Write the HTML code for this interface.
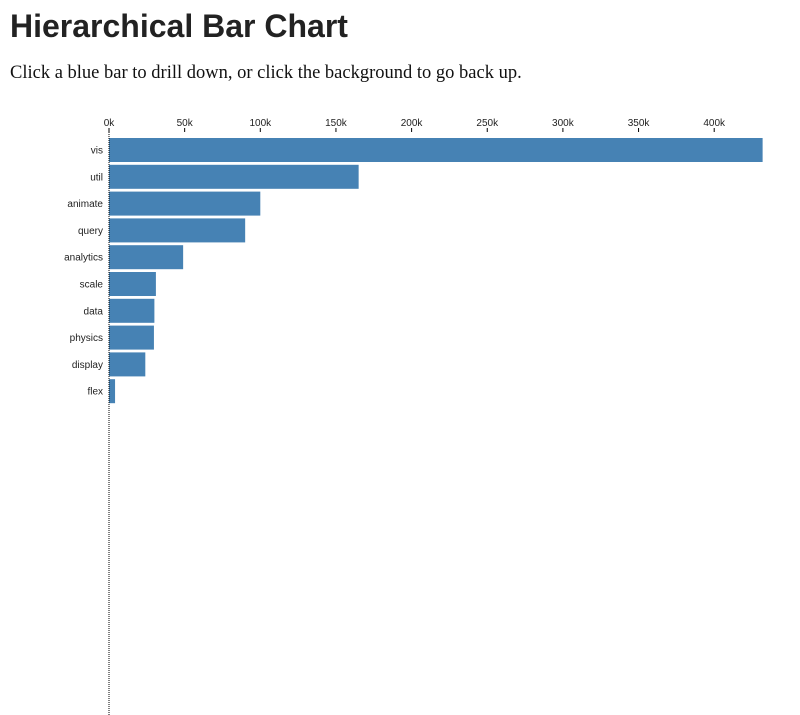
<!DOCTYPE html>
<html><head><meta charset="utf-8"><style>
body{margin:0;width:800px;height:715px;background:#fff;overflow:hidden;position:relative}
h1{position:absolute;left:10px;top:8px;margin:0;font:bold 32px "Liberation Sans",sans-serif;color:#222;letter-spacing:0px}
p{position:absolute;left:10px;top:63px;margin:0;font:18.5px "Liberation Serif",serif;color:#111}
svg{position:absolute;left:0;top:0}
text{font-family:"Liberation Sans",sans-serif;font-size:10px;fill:#222}
</style></head><body>
<h1>Hierarchical Bar Chart</h1>
<p>Click a blue bar to drill down, or click the background to go back up.</p>
<svg id="c" width="800" height="715"></svg>
<script>
const categories=["vis","util","animate","query","analytics","scale","data","physics","display","flex"];
const values=[432,165,100,90,49,31,30,29.7,24,4];
const ticks=[0,50,100,150,200,250,300,350,400];
const tickLabels=["0k","50k","100k","150k","200k","250k","300k","350k","400k"];
const NS="http://www.w3.org/2000/svg",svg=document.getElementById('c');
const x0=109,k=1.513,y0=138,step=26.8,bh=24;
const xs=v=>x0+v*k, ys=i=>y0+i*step;
function el(t,a){const e=document.createElementNS(NS,t);for(const n in a)e.setAttribute(n,a[n]);svg.appendChild(e);return e;}
const bg=el('rect',{x:0,y:100,width:800,height:615,fill:'#fff'});


ticks.forEach((t,i)=>{
 const l=el('line',{x1:xs(t),x2:xs(t),y1:128,y2:132,stroke:'#000'});
 
 
 const tx=el('text',{x:xs(t),y:126,'text-anchor':'middle'});tx.textContent=tickLabels[i];
 
 
});
categories.forEach((c,i)=>{
 const r=el('rect',{x:x0,y:ys(i),width:xs(values[i])-x0,height:bh,fill:'steelblue'});
 
 
 const t=el('text',{x:x0-6,y:ys(i)+bh/2+3.5,'text-anchor':'end'});t.textContent=c;
 
 
});
const ax=el('line',{x1:x0,x2:x0,y1:128,y2:715,stroke:'#000','stroke-dasharray':'1,1'});


</script>
</body></html>
